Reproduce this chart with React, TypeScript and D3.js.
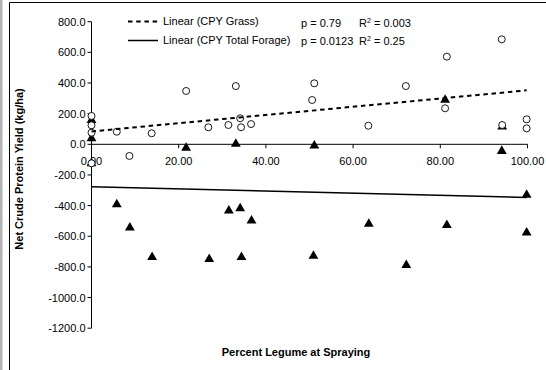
import React from "react";
import * as d3 from "d3";

const grassX = [0, 0, 0, 0, 5.8, 8.7, 13.8, 21.7, 26.8, 31.4, 33.1, 34.1, 34.3, 36.6, 50.6, 51.1, 63.5, 72.1, 81.1, 81.5, 94.1, 94.2, 99.8, 99.8];
const grassY = [185, 124, 76, -124, 82, -76, 72, 348, 111, 126, 380, 170, 111, 132, 289, 398, 121, 380, 235, 572, 685, 126, 163, 104];

const totalX = [0, 0, 0, 5.8, 8.8, 13.9, 21.7, 27, 31.5, 33.1, 34.1, 34.4, 36.7, 50.9, 51.1, 63.6, 72.2, 81.1, 81.5, 94.1, 94.2, 99.8, 99.8];
const totalY = [158, 39, -124, -392, -544, -737, -24, -750, -433, 2, -418, -737, -498, -729, -9, -520, -788, 289, -527, -44, 115, -331, -577];

const trendX = [0, 99.8];
const grassTrend = [84, 352];
const totalTrend = [-277, -347];

const xTicks = [0, 20, 40, 60, 80, 100];
const yTicks = [800, 600, 400, 200, 0, -200, -400, -600, -800, -1000, -1200];

const legendLabels = ["Linear (CPY Grass)", "Linear (CPY Total Forage)"];
const statP = ["p = 0.79", "p = 0.0123"];
const statR = ["0.003", "0.25"];

const FONT = "'Liberation Sans', Arial, sans-serif";

export default function App() {
  const W = 546, H = 370;
  const x = d3.scaleLinear().domain([0, 100]).range([91.5, 527.5]);
  const y = d3.scaleLinear().domain([-1200, 800]).range([328.2, 21.7]);
  const x0 = x(0), y0 = y(0);

  const line = d3.line<[number, number]>().x(d => x(d[0])).y(d => y(d[1]));
  const grassLine = line(trendX.map((v, i) => [v, grassTrend[i]] as [number, number])) || "";
  const totalLine = line(trendX.map((v, i) => [v, totalTrend[i]] as [number, number])) || "";
  const tri = d3.symbol().type(d3.symbolTriangle).size(42)() || "";

  const pX = 301, rX = 359;

  return (
    <svg width={W} height={H} style={{ position: "absolute", left: 0, top: 0, background: "#fff" }} fontFamily={FONT}>
      <rect x={0} y={0} width={W} height={H} fill="#fff" />
      {/* frame */}
      <rect x={0} y={0} width={2.5} height={H} fill="#b4b4b4" />
      <line x1={9.5} x2={9.5} y1={2.5} y2={H} stroke="#000" strokeWidth={1} />
      <line x1={9.5} x2={W} y1={2.5} y2={2.5} stroke="#000" strokeWidth={1} />

      {/* y axis */}
      <line x1={x0} x2={x0} y1={y(800)} y2={y(-1200)} stroke="#000" strokeWidth={1} />
      {yTicks.map(t => (
        <g key={"yt" + t}>
          <line x1={x0 - 4} x2={x0} y1={y(t)} y2={y(t)} stroke="#000" strokeWidth={1} />
          <text x={x0 - 6} y={y(t)} dy="0.36em" textAnchor="end" fontSize={11} fill="#000">
            {d3.format(".1f")(t).replace("−", "-")}
          </text>
        </g>
      ))}
      {/* x axis */}
      <line x1={x(0)} x2={x(100)} y1={y0} y2={y0} stroke="#000" strokeWidth={1} />
      {xTicks.map(t => (
        <g key={"xt" + t}>
          <line x1={x(t)} x2={x(t)} y1={y0} y2={y0 + 4} stroke="#000" strokeWidth={1} />
          <text x={x(t)} y={y0 + 21} textAnchor="middle" fontSize={11} fill="#000">
            {d3.format(".2f")(t)}
          </text>
        </g>
      ))}

      {/* triangles: total forage */}
      {totalX.map((v, i) => (
        <path key={"tr" + i} d={tri} transform={`translate(${x(v)},${y(totalY[i])})`} fill="#000" />
      ))}
      {/* circles: grass */}
      {grassX.map((v, i) => (
        <circle key={"c" + i} cx={x(v)} cy={y(grassY[i])} r={3.5} fill="#fff" stroke="#000" strokeWidth={0.9} />
      ))}

      {/* trend lines */}
      <path d={grassLine} fill="none" stroke="#000" strokeWidth={2} strokeDasharray="4.5,3.7" />
      <path d={totalLine} fill="none" stroke="#000" strokeWidth={1.5} />

      {/* legend */}
      <line x1={128} x2={158} y1={21.5} y2={21.5} stroke="#000" strokeWidth={2} strokeDasharray="4.5,3.7" />
      <line x1={128} x2={158} y1={40.5} y2={40.5} stroke="#000" strokeWidth={1.5} />
      <text x={163} y={25} fontSize={11} fill="#000">{legendLabels[0]}</text>
      <text x={163} y={44} fontSize={11} fill="#000">{legendLabels[1]}</text>

      <text x={pX} y={27} fontSize={11} fill="#000">{statP[0]}</text>
      <text x={rX} y={27} fontSize={11} fill="#000">R<tspan fontSize={7} dy={-4}>2</tspan><tspan dy={4}>{" = " + statR[0]}</tspan></text>
      <text x={pX} y={45} fontSize={11} fill="#000">{statP[1]}</text>
      <text x={rX} y={45} fontSize={11} fill="#000">R<tspan fontSize={7} dy={-4}>2</tspan><tspan dy={4}>{" = " + statR[1]}</tspan></text>

      {/* axis titles */}
      <text transform={`translate(23,${169}) rotate(-90)`} textAnchor="middle" fontSize={11} fontWeight="bold" fill="#000">
        Net Crude Protein Yield (kg/ha)
      </text>
      <text x={296} y={356} textAnchor="middle" fontSize={11} fontWeight="bold" fill="#000">
        Percent Legume at Spraying
      </text>
    </svg>
  );
}
